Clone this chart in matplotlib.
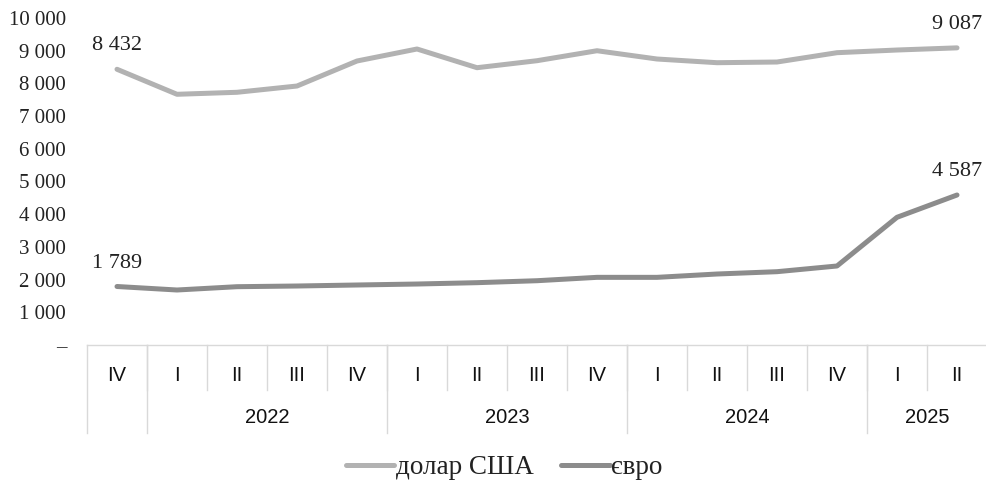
import matplotlib
matplotlib.use('Agg')
import matplotlib.pyplot as plt
from matplotlib.ticker import FuncFormatter
import matplotlib.transforms as mtrans

quarters = ['IV', 'I', 'II', 'III', 'IV', 'I', 'II', 'III', 'IV', 'I', 'II', 'III', 'IV', 'I', 'II']
years = ['', '2022', '2023', '2024', '2025']
year_sizes = [1, 4, 4, 4, 2]
usd = [8432, 7667, 7728, 7920, 8685, 9052, 8480, 8694, 8999, 8746, 8633, 8654, 8939, 9021, 9087]
eur = [1789, 1682, 1783, 1804, 1835, 1865, 1906, 1966, 2069, 2069, 2171, 2242, 2416, 3905, 4587]
series_names = ['долар США', 'євро']
colors = ['#b2b2b2', '#8c8c8c']

SERIF = 'Liberation Serif'
SANS = 'Liberation Sans'


def fmt( v, pos=None ):
    v = int( round( v ) )
    if v == 0:
        return '–'
    return '{:,}'.format( v ).replace( ',', ' ' )


fig = plt.figure( figsize=(9.86, 4.88), dpi=100 )
ax = fig.add_axes( [87 / 986, 143 / 488, 900 / 986, 327 / 488] )

x = list( range( len( quarters ) ) )
for vals, name, c in zip( [usd, eur], series_names, colors ):
    ax.plot( x, vals, color=c, lw=3.6, label=name, solid_capstyle='round' )
    for i in (0, len( vals ) - 1):
        ax.annotate( fmt( vals[i] ), (x[i], vals[i]), xytext=(0, 10), textcoords='offset points',
                     ha='center', va='bottom', fontsize=16, family=SERIF, color='#222222' )

ax.set_xlim( -0.5, len( quarters ) - 0.5 )
ax.set_ylim( 0, 10000 )
ax.set_yticks( range( 0, 10001, 1000 ) )
ax.yaxis.set_major_formatter( FuncFormatter( fmt ) )
ax.tick_params( axis='y', length=0, pad=15, labelsize=15, labelcolor='#222222' )
for lab in ax.get_yticklabels( ):
    lab.set_family( SERIF )
ax.set_xticks( [] )
for s in ['top', 'right', 'left', 'bottom']:
    ax.spines[s].set_visible( False )

# multi-level category axis
grid_c = '#d9d9d9'
tr = mtrans.blended_transform_factory( ax.transData, ax.transAxes )
ax.plot( [-0.5, len( quarters ) - 0.5], [0, 0], color=grid_c, lw=1, transform=tr, clip_on=False )
q_bottom, y_bottom = -0.138, -0.269
for i, q in enumerate( quarters ):
    ax.text( i, -0.092, q, transform=tr, ha='center', va='center', fontsize=14.5, family=SANS, color='#111111' )
    ax.plot( [i + 0.5, i + 0.5], [0, q_bottom], color=grid_c, lw=1, transform=tr, clip_on=False )
start = -0.5
for yr, n in zip( years, year_sizes ):
    ax.plot( [start, start], [0, y_bottom], color=grid_c, lw=1, transform=tr, clip_on=False )
    ax.text( start + n / 2, -0.223, yr, transform=tr, ha='center', va='center', fontsize=14.5, family=SANS,
             color='#111111' )
    start += n

leg = ax.legend( loc='center', bbox_to_anchor=(504 / 986, 20 / 488), bbox_transform=fig.transFigure, ncol=2,
                 frameon=False, prop={ 'family': SERIF, 'size': 19.5 }, handlelength=1.8, handletextpad=0.05,
                 columnspacing=1.0 )
for t in leg.get_texts( ):
    t.set_color( '#222222' )

fig.savefig( 'out.png', dpi=100 )
